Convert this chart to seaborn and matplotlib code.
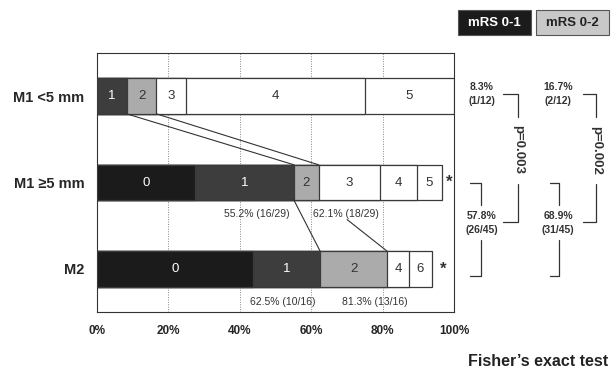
import math
import numpy as np
import pandas as pd
import matplotlib
matplotlib.use("Agg")
import matplotlib.pyplot as plt
from matplotlib.lines import Line2D
from matplotlib.patches import Rectangle
import seaborn as sns

# ---- data -------------------------------------------------------------
groups = ["M1 <5 mm", "M1 \u22655 mm", "M2"]
grades_m1_small = [1, 2, 3, 4, 5]
counts_m1_small = [1, 1, 1, 6, 3]
grades_m1_large = [0, 1, 2, 3, 4, 5]
counts_m1_large = [8, 8, 2, 5, 3, 2]
grades_m2 = [0, 1, 2, 4, 6]
counts_m2 = [7, 3, 3, 1, 1]
n_patients = [12, 29, 16]
x_ticks = [0, 20, 40, 60, 80, 100]
x_tick_labels = ["0%", "20%", "40%", "60%", "80%", "100%"]
p_values = ["p=0.003", "p=0.002"]
legend_labels = ["mRS 0-1", "mRS 0-2"]

grade_colors = {"0": "#1b1b1b", "1": "#3d3d3d", "2": "#ababab",
                "3": "#ffffff", "4": "#ffffff", "5": "#ffffff", "6": "#ffffff"}


def pct(k, n):
    """Percentage rounded half-up to one decimal."""
    return f"{math.floor(k / n * 1000 + 0.5) / 10:.1f}%"


# ---- long table of stacked segments -------------------------------------
rows = []
per_group = [(grades_m1_small, counts_m1_small),
             (grades_m1_large, counts_m1_large),
             (grades_m2, counts_m2)]
for g, (grades, counts), n in zip(groups, per_group, n_patients):
    cum = 0
    for gr, c in zip(grades, counts):
        start = cum / n * 100
        cum += c
        rows.append({"group": g, "grade": str(gr), "start": start,
                     "end": cum / n * 100})
df = pd.DataFrame(rows)


def cum_upto(group_idx, max_grade):
    grades, counts = per_group[group_idx]
    return sum(c for gr, c in zip(grades, counts) if gr <= max_grade)


# ---- figure -------------------------------------------------------------
sns.set_style("white")
plt.rcParams["font.family"] = ["Liberation Sans", "DejaVu Sans"]
W, H = 615, 371
fig = plt.figure(figsize=(W / 100, H / 100), dpi=100)
ax = fig.add_axes([97 / W, 1 - 312 / H, (454 - 97) / W, (312 - 53) / H])

BAR_H = 0.41
hue_order = sorted(df["grade"].unique(), key=int, reverse=True)
sns.barplot(data=df, x="end", y="group", hue="grade", order=groups,
            hue_order=hue_order, palette=grade_colors, dodge=False,
            width=BAR_H, edgecolor="#3a3a3a", linewidth=0.9,
            errorbar=None, legend=False, orient="h", ax=ax, zorder=3)

# grade numbers inside the segments
for _, r in df.iterrows():
    yi = groups.index(r["group"])
    col = "white" if r["grade"] in ("0", "1") else "#333333"
    ax.text((r["start"] + r["end"]) / 2, yi, r["grade"], ha="center",
            va="center", fontsize=9.5, color=col, zorder=5)

ax.set_xlim(0, 100)
ax.set_ylim(2.5, -0.5)
ax.set_xticks(x_ticks)
ax.set_xticklabels(x_tick_labels, fontsize=8.5, fontweight="bold")
ax.set_yticks(range(len(groups)))
ax.set_yticklabels(groups, fontsize=10.5, fontweight="bold")
ax.set_yticks([0.5, 1.5], minor=True)
ax.tick_params(axis="y", which="major", length=0, pad=9)
ax.tick_params(axis="y", which="minor", length=3, width=0.7, color="#555")
ax.tick_params(axis="x", length=3, width=0.7, color="#555", direction="inout",
               pad=8)
ax.set_xlabel("")
ax.set_ylabel("")
for x in x_ticks[1:-1]:
    ax.axvline(x, color="#888888", lw=0.7, ls=(0, (1, 1.5)), zorder=1)
for s in ax.spines.values():
    s.set_visible(True)
    s.set_color("#333333")
    s.set_linewidth(0.8)
ax.spines["bottom"].set_linestyle((0, (2, 1)))

# connecting lines between groups
half = BAR_H / 2
p01 = [cum_upto(i, 1) / n_patients[i] * 100 for i in range(3)]
p02 = [cum_upto(i, 2) / n_patients[i] * 100 for i in range(3)]
lk = dict(color="#333333", lw=0.8, zorder=4)
ax.plot([p01[0], p01[1]], [0 + half, 1 - half], **lk)
ax.plot([p02[0], p02[1]], [0 + half, 1 - half], **lk)
ax.plot([p01[1], p01[2]], [1 + half, 2 - half], **lk)
ax.plot([p02[1] + 8, p02[2]], [1 + 0.43, 2 - half], **lk)

lbl = dict(fontsize=7.5, color="#333333", va="center", zorder=5)
ax.text(p01[1] - 1.3, 1.37,
        f"{pct(cum_upto(1, 1), n_patients[1])} ({cum_upto(1, 1)}/{n_patients[1]})",
        ha="right", **lbl)
ax.text(p02[1] - 1.7, 1.37,
        f"{pct(cum_upto(1, 2), n_patients[1])} ({cum_upto(1, 2)}/{n_patients[1]})",
        ha="left", **lbl)
ax.text(p01[2] - 1.3, 2.38,
        f"{pct(cum_upto(2, 1), n_patients[2])} ({cum_upto(2, 1)}/{n_patients[2]})",
        ha="right", **lbl)
ax.text(p02[2] - 12.5, 2.38,
        f"{pct(cum_upto(2, 2), n_patients[2])} ({cum_upto(2, 2)}/{n_patients[2]})",
        ha="left", **lbl)

# incomplete follow-up markers
totals = [df[df.group == g]["end"].max() for g in groups]
ax.text(totals[1] + 2.0, 1, "*", ha="center", va="center", fontsize=12,
        fontweight="bold", color="#333333", clip_on=False)
ax.text(totals[2] + 3.2, 2, "*", ha="center", va="center", fontsize=12,
        fontweight="bold", color="#333333", clip_on=False)


# ---- right-hand summary panel (pixel coordinates) -----------------------
def fx(px):
    return px / W


def fy(py):
    return 1 - py / H


def fline(xs, ys):
    fig.add_artist(Line2D([fx(v) for v in xs], [fy(v) for v in ys],
                          color="#333333", lw=0.9))


# legend boxes
for (x0, x1), text, fc, tc in zip([(458, 531), (536, 609)], legend_labels,
                                  ["#1b1b1b", "#c8c8c8"], ["white", "#222222"]):
    fig.add_artist(Rectangle((fx(x0), fy(35)), fx(x1) - fx(x0), fy(10) - fy(35),
                             facecolor=fc, edgecolor="#555555", lw=0.8))
    fig.text(fx((x0 + x1) / 2), fy(22.5), text, ha="center", va="center",
             fontsize=9.5, fontweight="bold", color=tc)

n_big = n_patients[1] + n_patients[2]
pooled01 = cum_upto(1, 1) + cum_upto(2, 1)
pooled02 = cum_upto(1, 2) + cum_upto(2, 2)
small01 = cum_upto(0, 1)
small02 = cum_upto(0, 2)
pk = dict(ha="center", va="center", fontsize=7.5, fontweight="bold",
          color="#333333")
for cx, k_small, k_big in [(482, small01, pooled01), (558, small02, pooled02)]:
    fig.text(fx(cx), fy(87), pct(k_small, n_patients[0]), **pk)
    fig.text(fx(cx), fy(101), f"({k_small}/{n_patients[0]})", **pk)
    fig.text(fx(cx), fy(216), pct(k_big, n_big), **pk)
    fig.text(fx(cx), fy(230), f"({k_big}/{n_big})", **pk)

# brackets with p-values
for (x0, x1), ptxt in zip([(503, 518), (583, 596)], p_values):
    fline([x0, x1, x1], [94, 94, 117])
    fline([x1, x1, x0], [184, 222, 222])
    fig.text(fx(x1), fy(150), ptxt, rotation=-90, ha="center", va="center",
             fontsize=9.5, fontweight="bold", color="#333333")
for x0, x1 in [(470, 481), (550, 559)]:
    fline([x0, x1, x1], [183, 183, 205])
    fline([x1, x1, x0], [240, 276, 276])

fig.text(fx(538), fy(362), "Fisher\u2019s exact test", ha="center",
         va="center", fontsize=11.5, fontweight="bold", color="#222222")

fig.savefig("out.png", dpi=100, facecolor="white")
